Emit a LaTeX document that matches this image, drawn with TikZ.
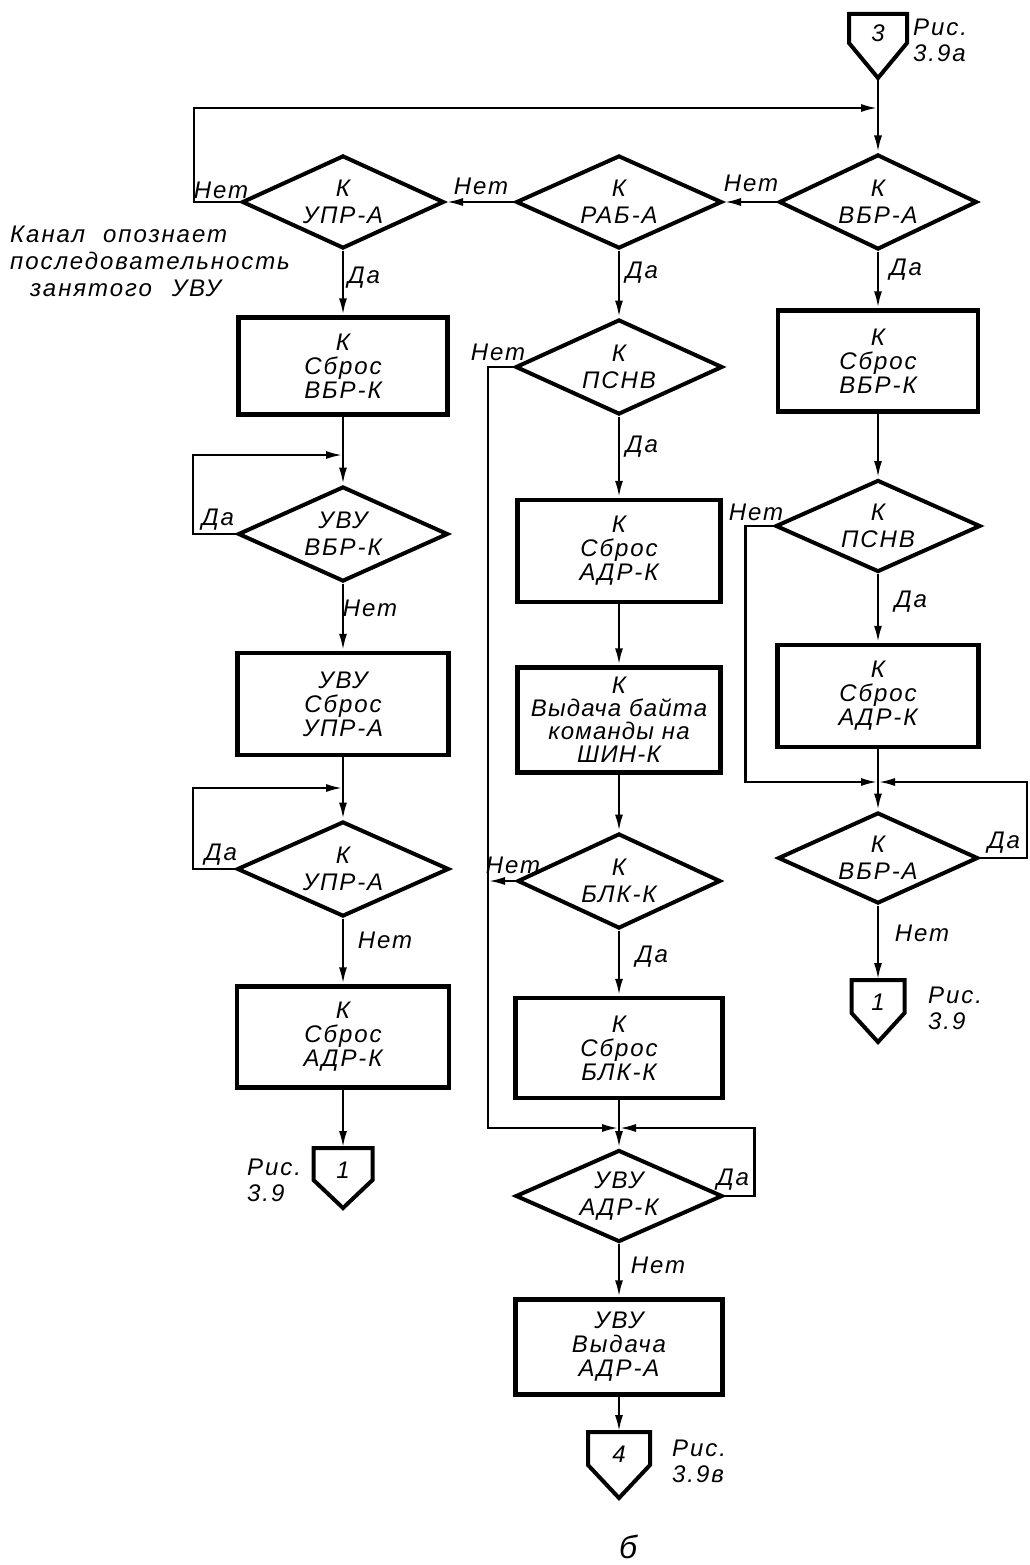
\documentclass[tikz,border=0pt]{standalone}
\usepackage{fontspec}
\setmainfont{Liberation Sans}
\newfontfamily\gost[LetterSpace=8]{Liberation Sans}
\newfontfamily\gostn[LetterSpace=5]{Liberation Sans}
\usetikzlibrary{arrows.meta,shapes.geometric,calc}

\newcommand\offpage[7]{% name, cx, top, width, side, height, text
  \coordinate (#1-top) at (#2,#3);
  \coordinate (#1-tip) at (#2,{#3+#6});
  \draw[shp] ({#2-#4/2},#3) -- ({#2+#4/2},#3) -- ({#2+#4/2},{#3+#5}) -- (#1-tip) -- ({#2-#4/2},{#3+#5}) -- cycle;
  \node[txt] (#1) at (#2,{#3+0.68*#5}) {#7};
}

\tikzset{
  txt/.style={font=\gost\itshape\fontsize{24}{24}\selectfont, inner sep=0pt, align=center},
  box/.style={txt, draw, rectangle, line width=4.5pt},
  dec/.style={txt, draw, diamond, shape aspect=2.2, line width=4pt, font=\gost\itshape\fontsize{24}{27}\selectfont},
  lab/.style={txt},
  reflab/.style={txt, align=left, anchor=west, font=\gost\itshape\fontsize{24}{26}\selectfont},
  line/.style={line width=2.6pt},
  arr/.style={line, -{Latex[length=17pt,width=8pt]}},
  shp/.style={line width=4pt, line join=miter},
}

\begin{document}
\begin{tikzpicture}[x=1pt,y=-1pt]
\fill[white] (0,0) rectangle (1029,1565);
\useasboundingbox (0,0) rectangle (1029,1565);

% ---- off-page connectors
\offpage{c3}{878}{14}{58}{29}{64}{3}
\offpage{c1l}{343}{1148}{59}{32}{60}{1}
\offpage{c4}{619}{1432}{62}{33}{66}{4}
\offpage{c1r}{878}{980}{53}{33}{62}{1}

% ---- right column
\node[dec, minimum width=198pt, minimum height=95pt] (d1) at (878,202) {К\\ВБР-А};
\node[box, minimum width=200pt, minimum height=101pt] (b8) at (878,361) {К\\Сброс\\ВБР-К};
\node[dec, minimum width=205pt, minimum height=92pt] (d9) at (878,526) {К\\ПСНВ};
\node[box, minimum width=201pt, minimum height=102pt] (b9) at (878,696) {К\\Сброс\\АДР-К};
\node[dec, minimum width=200pt, minimum height=91pt] (d10) at (878,858) {К\\ВБР-А};

% ---- middle column
\node[dec, minimum width=206pt, minimum height=93pt] (d2) at (619,202) {К\\РАБ-А};
\node[dec, minimum width=207pt, minimum height=95pt] (d6) at (619,367) {К\\ПСНВ};
\node[box, minimum width=203pt, minimum height=102pt] (b4) at (619,551) {К\\Сброс\\АДР-К};
\node[box, minimum width=203pt, minimum height=105pt, font=\gostn\itshape\fontsize{24}{23}\selectfont] (b5) at (619,720) {К\\Выдача байта\\команды на\\ШИН-К};
\node[dec, minimum width=203pt, minimum height=95pt] (d7) at (619,881) {К\\БЛК-К};
\node[box, minimum width=207pt, minimum height=100pt] (b6) at (619,1048) {К\\Сброс\\БЛК-К};
\node[dec, minimum width=207pt, minimum height=92pt] (d8) at (619,1196) {УВУ\\АДР-К};
\node[box, minimum width=207pt, minimum height=95pt] (b7) at (619,1347) {УВУ\\Выдача\\АДР-А};

% ---- left column
\node[dec, minimum width=202pt, minimum height=93pt] (d3) at (343,202) {К\\УПР-А};
\node[box, minimum width=209pt, minimum height=97pt] (b1) at (343,366) {К\\Сброс\\ВБР-К};
\node[dec, minimum width=210pt, minimum height=95pt] (d4) at (343,534) {УВУ\\ВБР-К};
\node[box, minimum width=211pt, minimum height=102pt] (b2) at (343,704) {УВУ\\Сброс\\УПР-А};
\node[dec, minimum width=212pt, minimum height=95pt] (d5) at (343,869) {К\\УПР-А};
\node[box, minimum width=212pt, minimum height=101pt] (b3) at (343,1037) {К\\Сброс\\АДР-К};

% ---- junction points
\coordinate (jtop) at (878,108);
\coordinate (j4) at (343,455);
\coordinate (j5) at (343,788);
\coordinate (jm) at (619,1128);
\coordinate (jr) at (878,782);
\coordinate (lm) at (488,0);

% ---- connectors
\draw[arr] (c3-tip) -- (d1.north);
\draw[arr] (d1.west) -- (d2.east);
\draw[arr] (d2.west) -- (d3.east);
\draw[arr] (d3.west) -- ++(-46,0) |- (jtop);
\draw[arr] (d3.south) -- (b1.north);
\draw[arr] (b1.south) -- (d4.north);
\draw[arr] (d4.west) -- ++(-43,0) |- (j4);
\draw[arr] (d4.south) -- (b2.north);
\draw[arr] (b2.south) -- (d5.north);
\draw[arr] (d5.west) -- ++(-42,0) |- (j5);
\draw[arr] (d5.south) -- (b3.north);
\draw[arr] (b3.south) -- (c1l-top);

\draw[arr] (d2.south) -- (d6.north);
\draw[arr] (d6.west) -- (d6.west -| lm) |- (jm);
\draw[arr] (d6.south) -- (b4.north);
\draw[arr] (b4.south) -- (b5.north);
\draw[arr] (b5.south) -- (d7.north);
\draw[arr] (d7.west) -- (d7.west -| lm);
\draw[arr] (d7.south) -- (b6.north);
\draw[arr] (b6.south) -- (d8.north);
\draw[arr] (d8.east) -- ++(30,0) |- (jm);
\draw[arr] (d8.south) -- (b7.north);
\draw[arr] (b7.south) -- (c4-top);

\draw[arr] (d1.south) -- (b8.north);
\draw[arr] (b8.south) -- (d9.north);
\draw[arr] (d9.west) -- ++(-28,0) |- (jr);
\draw[arr] (d9.south) -- (b9.north);
\draw[arr] (b9.south) -- (d10.north);
\draw[arr] (d10.east) -- ++(47,0) |- (jr);
\draw[arr] (d10.south) -- (c1r-top);

% ---- branch labels
\node[lab] (l1) at (751,183) {Нет};
\node[lab] (l2) at (481,186) {Нет};
\node[lab] (l3) at (221,190) {Нет};
\node[lab] (l4) at (364,278) {Да};
\node[lab] (l5) at (642,273) {Да};
\node[lab] (l6) at (906,270) {Да};
\node[lab] (l7) at (498,352) {Нет};
\node[lab] (l8) at (642,447) {Да};
\node[lab] (l9) at (756,512) {Нет};
\node[lab] (l10) at (911,602) {Да};
\node[lab] (l11) at (218,520) {Да};
\node[lab] (l12) at (370,608) {Нет};
\node[lab] (l13) at (221,855) {Да};
\node[lab] (l14) at (385,940) {Нет};
\node[lab] (l15) at (513,865) {Нет};
\node[lab] (l16) at (652,957) {Да};
\node[lab] (l17) at (1004,843) {Да};
\node[lab] (l18) at (922,933) {Нет};
\node[lab] (l19) at (733,1180) {Да};
\node[lab] (l20) at (658,1265) {Нет};

% ---- references
\node[reflab] (r1) at (913,40) {Рис.\\3.9а};
\node[reflab] (r2) at (928,1008) {Рис.\\3.9};
\node[reflab] (r3) at (247,1180) {Рис.\\3.9};
\node[reflab] (r4) at (672,1461) {Рис.\\3.9в};

% ---- annotation and caption
\node[txt, align=left, anchor=west, font=\gost\itshape\fontsize{24}{27}\selectfont] (note) at (10,261)
  {Канал\hspace{18pt}опознает\\последовательность\\\hspace*{20pt}занятого\hspace{20pt}УВУ};
\node[txt, font=\gost\itshape\fontsize{32}{32}\selectfont] (cap) at (628,1547) {б};
\end{tikzpicture}
\end{document}
